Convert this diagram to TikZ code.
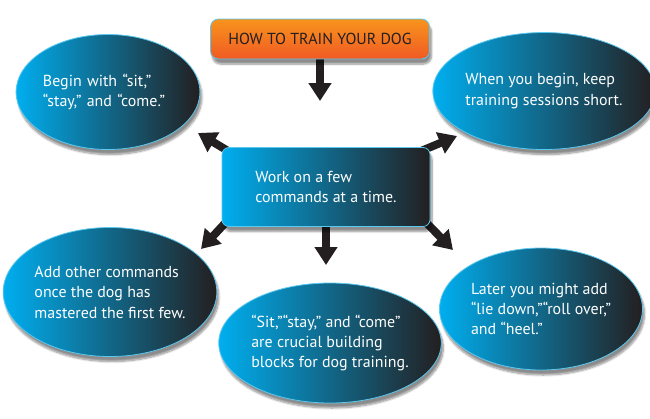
\documentclass[tikz,border=0pt]{standalone}
\usepackage{fontspec}
\setmainfont{PT Sans}
\usetikzlibrary{arrows.meta,shapes.geometric,shadows.blur,backgrounds}
\definecolor{skyblue}{HTML}{00AEEF}
\definecolor{inkblack}{HTML}{231F20}
\definecolor{rimblue}{HTML}{5BC8F0}
\definecolor{orangetop}{HTML}{F7941D}
\definecolor{orangebot}{HTML}{F15A24}
\newcommand{\bt}{\fontsize{16}{20.5}\selectfont}
\newcommand{\hd}{\fontsize{16}{18}\selectfont}

\begin{document}
\begin{tikzpicture}[x=1bp,y=-1bp,
  lift/.style={blur shadow={shadow xshift=2bp,shadow yshift=-5bp,shadow blur steps=8,shadow opacity=45}},
  blob/.style={ellipse,lift,draw=rimblue,line width=0.8bp,left color=skyblue,right color=inkblack,
               inner sep=0pt,text=white,align=left,font=\bt},
  card/.style={rectangle,lift,rounded corners=7bp,draw=rimblue,line width=0.8bp,left color=skyblue,
               right color=inkblack,inner sep=0pt,text=white,align=left,font=\bt},
  head/.style={rectangle,lift,rounded corners=8bp,draw=rimblue,line width=0.8bp,top color=orangetop,
               bottom color=orangebot,inner sep=0pt,text=inkblack,font=\hd},
  bigarrow/.style={line width=8bp,draw=inkblack,-{Triangle[width=22bp,length=18bp]}}]
  \useasboundingbox (0,0) rectangle (650,418);

  \draw (320, 39) node[head,minimum width=219bp,minimum height=40bp] (title) {HOW TO TRAIN YOUR DOG};
  \draw (326,187) node[card,minimum width=208bp,minimum height=79bp] (work) {Work on a few\\commands at a time.};
  \draw (108, 92) node[blob,minimum width=172bp,minimum height=115bp,text width=130bp] (begin) {Begin with “sit,”\\“stay,” and “come.”};
  \draw (544, 91) node[blob,minimum width=188bp,minimum height=117bp] (short) {When you begin, keep\\training sessions short.};
  \draw (110,292) node[blob,minimum width=205bp,minimum height=129bp] (other) {Add other commands\\once the dog has\\mastered the first few.};
  \draw (330,343) node[blob,minimum width=188bp,minimum height=120bp] (blocks) {“Sit,”“stay,” and “come”\\are crucial building\\blocks for dog training.};
  \draw (541,309) node[blob,minimum width=203bp,minimum height=122bp] (later) {Later you might add\\“lie down,”“roll over,”\\and “heel.”};

  \coordinate (tdown) at (320,101);
  \coordinate (tnw)   at (198,133);
  \coordinate (tne)   at (457,136);
  \coordinate (tsw)   at (201,249);
  \coordinate (ts)    at (326,265);
  \coordinate (tse)   at (453,250);

  \begin{scope}[on background layer]
    \draw[bigarrow] (title.south) -- (tdown);
    \draw[bigarrow,shorten <=-10bp] (work.north west) -- (tnw);
    \draw[bigarrow,shorten <=-10bp] (work.north east) -- (tne);
    \draw[bigarrow,shorten <=-10bp] (work.south west) -- (tsw);
    \draw[bigarrow] (work.south) -- (ts);
    \draw[bigarrow,shorten <=-10bp] (work.south east) -- (tse);
  \end{scope}
\end{tikzpicture}
\end{document}
